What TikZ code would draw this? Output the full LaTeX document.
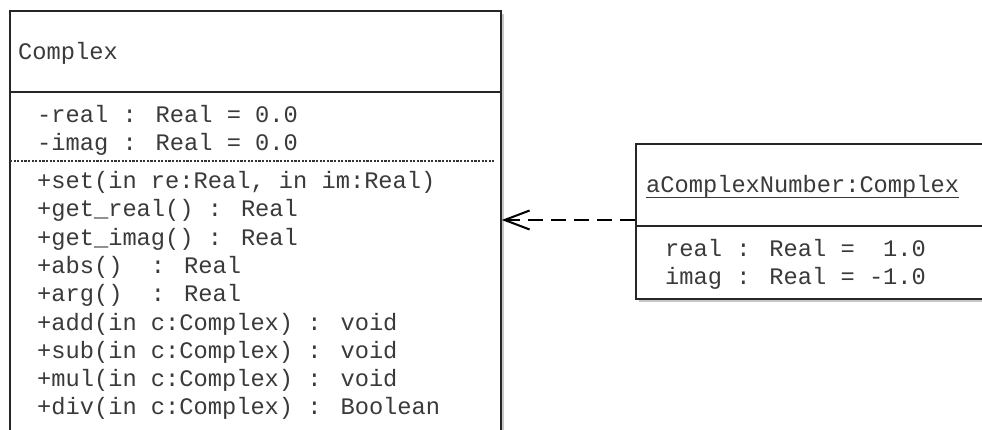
\documentclass[tikz,border=0pt]{standalone}
\usepackage{fontspec}
\newfontfamily\umlfont{Liberation Mono}
\usetikzlibrary{arrows.meta,shadows}
\definecolor{umltext}{HTML}{3A3A3A}
\tikzset{
  umlbox/.style={draw=black!85, line width=1.8pt, fill=white, inner sep=0pt, anchor=north west,
    drop shadow={shadow xshift=3pt, shadow yshift=-3pt, opacity=0.22, fill=black}},
  umlrow/.style={anchor=base west, inner sep=0pt, text=umltext,
    font=\umlfont\fontsize{23.7}{28.3}\selectfont},
  divider/.style={draw=black!85, line width=1.8pt},
  opsep/.style={draw=black!80, line width=1.2pt, dash pattern=on 2.2pt off 1.4pt},
  realizes/.style={draw=black, line width=2pt, dash pattern=on 15pt off 8pt,
    -{Straight Barb[length=25pt, width=19pt, line width=2pt]}}
}
\begin{document}
\begin{tikzpicture}[x=1pt, y=-1pt]
  \useasboundingbox (0,0) rectangle (982,430);
  \clip (0,0) rectangle (982,430);

  % class Complex (runs past the lower edge)
  \node[umlbox, minimum width=491pt, minimum height=440pt] (cls) at (9,10) {};
  \draw[divider] (cls.west |- 0,92) -- (cls.east |- 0,92);
  \node[umlrow] (clsname) at (18,59.5) {Complex};
  \node[umlrow] (attr1) at (37,122.5) {-real : Real = 0.0};
  \node[umlrow] (attr2) at (37,150.5) {-imag : Real = 0.0};
  \draw[opsep] (10,161) -- (494,161);
  \foreach \txt [count=\i from 0] in {%
      {+set(in re:Real, in im:Real)},
      {+get\_real() : Real},
      {+get\_imag() : Real},
      {+abs()~ : Real},
      {+arg()~ : Real},
      {+add(in c:Complex) : void},
      {+sub(in c:Complex) : void},
      {+mul(in c:Complex) : void},
      {+div(in c:Complex) : Boolean}}
    \node[umlrow] (op\i) at (37,188.5+28.3*\i) {\txt};

  % object aComplexNumber (runs past the right edge)
  \node[umlbox, minimum width=380pt, minimum height=155pt] (obj) at (635,143) {};
  \draw[divider] (obj.west |- 0,226) -- (obj.east |- 0,226);
  \node[umlrow] (objname) at (646,193) {aComplexNumber:Complex};
  \draw[umltext, line width=1pt] ([yshift=-5pt]objname.base west) -- ([yshift=-5pt]objname.base east);
  \node[umlrow] (oattr1) at (665,256.7) {real : Real =~ 1.0};
  \node[umlrow] (oattr2) at (665,284.3) {imag : Real = -1.0};

  % instance-of dependency
  \coordinate (src) at (obj.west |- 0,220);
  \coordinate (dst) at (cls.east |- 0,220);
  \draw[realizes] (src) -- (dst);
\end{tikzpicture}
\end{document}
